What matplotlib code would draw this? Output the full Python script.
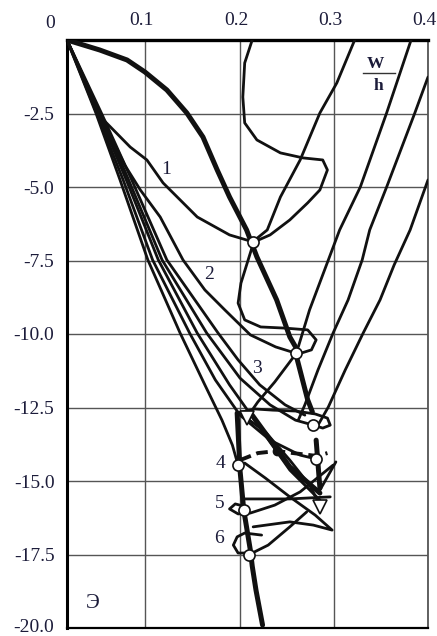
import numpy as np
import matplotlib.pyplot as plt
from matplotlib.transforms import ScaledTranslation

plt.rcParams['font.family'] = ['Liberation Serif', 'DejaVu Serif']

# axis ticks
x_ticks = [0.1, 0.2, 0.3, 0.4]
x_tick_labels = ['0.1', '0.2', '0.3', '0.4']
y_ticks = [-2.5, -5.0, -7.5, -10.0, -12.5, -15.0, -17.5, -20.0]
y_tick_labels = ['-2.5', '-5.0', '-7.5', '-10.0', '-12.5', '-15.0', '-17.5', '-20.0']

# thick curve (Э)
e_x = [0, 0.042, 0.077, 0.1, 0.123, 0.144, 0.161, 0.176, 0.189, 0.207, 0.218, 0.239, 0.253, 0.262]
e_y = [0, -0.34, -0.68, -1.09, -1.7, -2.48, -3.3, -4.42, -5.34, -6.46, -7.38, -8.84, -10.1, -10.6]
e2_x = [0.261, 0.272, 0.277]
e2_y = [-10.88, -12.24, -12.65]
e3_x = [0.213, 0.253, 0.285]
e3_y = [-12.76, -14.52, -15.41]
e4_x = [0.197, 0.2, 0.204, 0.211, 0.213, 0.217, 0.224]
e4_y = [-12.69, -14.63, -15.99, -17.35, -17.89, -18.71, -19.9]
e5_x = [0.281, 0.285]
e5_y = [-13.61, -15.24]

# curve 1 and curve 2
c1_x = [0, 0.017, 0.038, 0.081, 0.102, 0.119, 0.155, 0.189, 0.211]
c1_y = [0, -1.02, -2.48, -3.64, -4.08, -4.86, -6.02, -6.63, -6.84]
c2_x = [0, 0.023, 0.049, 0.074, 0.094, 0.116, 0.14, 0.163, 0.184, 0.211, 0.238, 0.255]
c2_y = [0, -1.36, -2.89, -4.25, -5.1, -6.02, -7.48, -8.5, -9.18, -10.03, -10.44, -10.61]

# bundle of curves 3..6 from the origin
b1_x = [0, 0.037, 0.068, 0.103, 0.137, 0.163, 0.181, 0.192, 0.197]
b1_y = [0, -2.48, -4.76, -7.48, -9.97, -11.73, -12.93, -13.78, -14.35]
b2_x = [0, 0.038, 0.072, 0.108, 0.147, 0.174, 0.2, 0.232, 0.264, 0.281]
b2_y = [0, -2.48, -4.76, -7.48, -9.97, -11.56, -12.76, -13.61, -14.12, -14.25]
b3_x = [0, 0.04, 0.076, 0.114, 0.155, 0.189, 0.223, 0.253, 0.285]
b3_y = [0, -2.48, -4.76, -7.48, -9.97, -11.73, -13.27, -14.63, -15.65]
b4_x = [0, 0.042, 0.079, 0.118, 0.165, 0.2, 0.232, 0.259, 0.278]
b4_y = [0, -2.48, -4.76, -7.48, -9.97, -11.5, -12.41, -12.93, -13.1]
b5_x = [0, 0.044, 0.083, 0.123, 0.177, 0.198, 0.221, 0.248, 0.269]
b5_y = [0, -2.48, -4.76, -7.48, -9.97, -10.88, -11.73, -12.41, -12.76]

# loops and hook near the upper circles
loop_x = [0.214, 0.212, 0.201, 0.198, 0.205, 0.222, 0.248, 0.272, 0.281, 0.276, 0.265, 0.26]
loop_y = [-6.84, -7.14, -8.27, -8.95, -9.52, -9.76, -9.8, -9.86, -10.2, -10.54, -10.65, -10.65]
hook_x = [0.213, 0.205, 0.203, 0.205, 0.218, 0.243, 0.267, 0.288, 0.293, 0.285, 0.272, 0.253, 0.232, 0.217]
hook_y = [0, -0.78, -1.94, -2.82, -3.4, -3.84, -4.01, -4.08, -4.42, -5.1, -5.54, -6.12, -6.63, -6.84]

# lines rising to the right
la_x = [0.216, 0.229, 0.243, 0.264, 0.285, 0.303, 0.322]
la_y = [-6.8, -6.46, -5.34, -4.08, -2.48, -1.46, 0]
lb_x = [0.262, 0.274, 0.29, 0.306, 0.328, 0.356, 0.382]
lb_y = [-10.44, -9.18, -7.82, -6.46, -5.0, -2.48, 0]
lc_x = [0.262, 0.269, 0.283, 0.299, 0.315, 0.33, 0.338, 0.356, 0.386, 0.4]
lc_y = [-12.93, -12.41, -11.22, -9.97, -8.84, -7.48, -6.46, -5.0, -2.48, -1.26]
ld_x = [0.283, 0.294, 0.312, 0.331, 0.349, 0.364, 0.381, 0.4]
ld_y = [-13.1, -12.48, -11.22, -9.97, -8.84, -7.65, -6.46, -4.76]

# tangle at the bottom
s1_x = [0.197, 0.216, 0.235, 0.259, 0.28, 0.293, 0.296, 0.288, 0.278]
s1_y = [-12.69, -12.55, -12.59, -12.62, -12.72, -12.86, -13.1, -13.2, -13.1]
s2_x = [0.26, 0.253, 0.237, 0.219, 0.207]
s2_y = [-10.65, -10.95, -11.63, -12.31, -12.86]
s5_x = [0.203, 0.253, 0.296]
s5_y = [-15.61, -15.61, -15.54]
s6_x = [0.207, 0.195, 0.189, 0.198, 0.211, 0.237, 0.264, 0.299]
s6_y = [-15.88, -15.78, -15.95, -16.12, -16.09, -15.82, -15.37, -14.46]
s7_x = [0.214, 0.253, 0.278, 0.298, 0.28, 0.253, 0.227, 0.205]
s7_y = [-16.56, -16.39, -16.5, -16.67, -16.16, -15.54, -14.9, -14.39]
s8_x = [0.223, 0.205, 0.197, 0.193, 0.198, 0.213, 0.23, 0.253, 0.271]
s8_y = [-16.84, -16.77, -16.9, -17.18, -17.45, -17.45, -17.18, -16.56, -16.05]
s9_x = [0.285, 0.302]
s9_y = [-15.31, -14.35]
s10_x = [0.207, 0.227, 0.253, 0.274, 0.285]
s10_y = [-12.86, -13.33, -14.29, -15.14, -15.82]
dash_x = [0.2, 0.219, 0.239, 0.264, 0.282, 0.293]
dash_y = [-14.29, -14.05, -13.98, -14.08, -14.15, -14.05]

# markers
circ_x = [0.214, 0.26, 0.278, 0.281, 0.198, 0.204, 0.21]
circ_y = [-6.87, -10.65, -13.1, -14.25, -14.46, -16.0, -17.52]
tri_x = [0.207, 0.285]
tri_y = [-12.86, -15.88]
dot_x = [0.239]
dot_y = [-13.98]

curve_labels = ['1', '2', '3', '4', '5', '6']
label_x = [0.122, 0.167, 0.218, 0.179, 0.179, 0.178]
label_y = [-4.42, -7.99, -11.16, -14.39, -15.75, -16.94]

# the scanned grid has a narrower first column
x_knots = [0, 0.1, 0.2, 0.3, 0.4]
col_px = [0, 78, 173, 267, 361]


def fwd(x):
    x = np.asarray(x, dtype=float)
    p = np.interp(x, x_knots, col_px)
    p = np.where(x < 0, x * 780, p)
    p = np.where(x > 0.4, 361 + (x - 0.4) * 940, p)
    return p


def inv(p):
    p = np.asarray(p, dtype=float)
    x = np.interp(p, col_px, x_knots)
    x = np.where(p < 0, p / 780, x)
    x = np.where(p > 361, 0.4 + (p - 361) / 940, x)
    return x


fig = plt.figure(figsize=(4.37, 6.36), dpi=100)
ax = fig.add_axes([67 / 437, 8 / 636, 361 / 437, 588 / 636])
ax.set_xscale('function', functions=(fwd, inv))
ax.set_xlim(0, 0.4)
ax.set_ylim(-20, 0)

ink = '#111111'
thin = 2.0
thick = 3.6

for xs, ys in [(c1_x, c1_y), (c2_x, c2_y), (b1_x, b1_y), (b2_x, b2_y), (b3_x, b3_y),
               (b4_x, b4_y), (b5_x, b5_y), (loop_x, loop_y), (hook_x, hook_y),
               (la_x, la_y), (lb_x, lb_y), (lc_x, lc_y), (ld_x, ld_y),
               (s1_x, s1_y), (s2_x, s2_y), (s5_x, s5_y), (s6_x, s6_y), (s7_x, s7_y),
               (s8_x, s8_y), (s9_x, s9_y), (s10_x, s10_y)]:
    ax.plot(xs, ys, color=ink, lw=thin, solid_capstyle='round', zorder=3)

for xs, ys in [(e_x, e_y), (e2_x, e2_y), (e3_x, e3_y), (e4_x, e4_y), (e5_x, e5_y)]:
    ax.plot(xs, ys, color=ink, lw=thick, solid_capstyle='round', zorder=4)

ax.plot(dash_x, dash_y, color=ink, lw=2.8, linestyle=(0, (3, 1.5)), zorder=4)

ax.plot(circ_x, circ_y, 'o', ms=8, mfc='white', mec=ink, mew=1.2, zorder=6)
ax.plot(tri_x, tri_y, 'v', ms=10, mfc='white', mec=ink, mew=1.2, zorder=6)
ax.plot(dot_x, dot_y, 'o', ms=6, color=ink, zorder=6)

txt = '#1c1c3a'
for lab, lx, ly in zip(curve_labels, label_x, label_y):
    ax.text(lx, ly, lab, fontsize=14, color=txt, ha='center', va='center', zorder=7)
ax.text(0.033, -19.15, 'Э', fontsize=15, color=txt, ha='center', va='center')

# W/h fraction
ax.text(0.344, -0.82, 'W', fontsize=12.5, color=txt, ha='center', va='center', fontweight='bold')
ax.text(0.347, -1.58, 'h', fontsize=12.5, color=txt, ha='center', va='center', fontweight='bold')
ax.plot([0.331, 0.365], [-1.13, -1.13], color='#333333', lw=1.0)

ax.set_xticks(x_ticks)
ax.set_xticklabels(x_tick_labels)
ax.set_yticks(y_ticks)
ax.set_yticklabels(y_tick_labels)
ax.xaxis.tick_top()
ax.tick_params(length=0, labelsize=14, labelcolor=txt)
ax.tick_params(axis='x', pad=8)
ax.tick_params(axis='y', pad=9)

# the scanned labels sit a little left of their grid lines
shift = ScaledTranslation(-4 / 100, 0, fig.dpi_scale_trans)
for lab in ax.get_xticklabels():
    lab.set_transform(lab.get_transform() + shift)
lift = ScaledTranslation(0, 3 / 100, fig.dpi_scale_trans)
ax.get_yticklabels()[-1].set_transform(ax.get_yticklabels()[-1].get_transform() + lift)

fig.text(50 / 437, 1 - 23 / 636, '0', fontsize=14, color=txt, ha='center', va='center')

ax.grid(True, color='#555555', lw=1.0, zorder=1)
ax.spines['top'].set_linewidth(2.4)
ax.spines['left'].set_linewidth(2.2)
ax.spines['bottom'].set_linewidth(1.6)
ax.spines['right'].set_linewidth(1.3)
ax.spines['right'].set_color('#555555')

fig.savefig('out.png', dpi=100)
